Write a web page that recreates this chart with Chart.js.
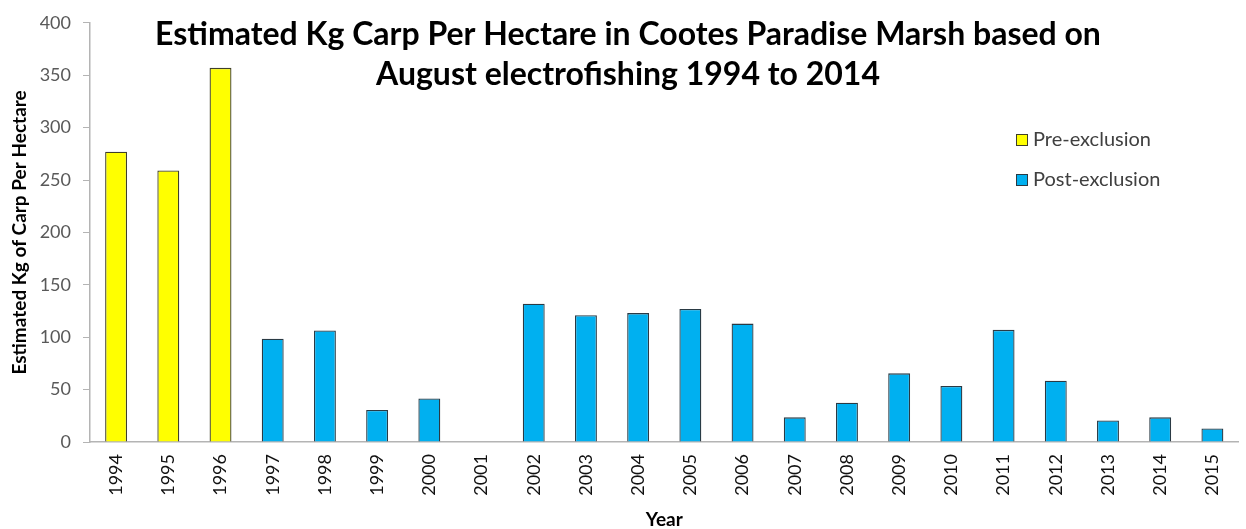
<!DOCTYPE html>
<html>
<head>
<meta charset="utf-8">
<script src="https://cdn.jsdelivr.net/npm/chart.js@4"></script>
<style>
  body { margin: 0; background: #fff; }
  canvas { display: block; }
</style>
</head>
<body>
<canvas id="carpChart" width="1246" height="529"></canvas>
<script>
const years = ['1994','1995','1996','1997','1998','1999','2000','2001','2002','2003','2004',
  '2005','2006','2007','2008','2009','2010','2011','2012','2013','2014','2015'];
const preExclusion = [277, 259, 357, null, null, null, null, null, null, null, null,
  null, null, null, null, null, null, null, null, null, null, null];
const postExclusion = [null, null, null, 98.5, 106.5, 30.5, 41.5, null, 132, 121, 123,
  127, 113, 23.5, 37.5, 65.5, 53.5, 107, 58.5, 20.5, 23.5, 13];
const yTicks = [0, 50, 100, 150, 200, 250, 300, 350, 400];
const titleLines = ['Estimated Kg Carp Per Hectare in Cootes Paradise Marsh based on',
  'August electrofishing 1994 to 2014'];

const FONT = 'Lato, "Open Sans", sans-serif';

// title + legend are drawn over the plot area, like the original
const overlay = {
    id: 'overlay',
    afterDraw(chart) {
        const ctx = chart.ctx;
        ctx.save();
        ctx.fillStyle = '#000';
        ctx.font = 'bold 32px ' + FONT;
        ctx.textAlign = 'center';
        ctx.textBaseline = 'middle';
        ctx.fillText(titleLines[0], 628, 35);
        ctx.fillText(titleLines[1], 628, 75);

        ctx.font = '20px ' + FONT;
        ctx.textAlign = 'left';
        chart.data.datasets.forEach((ds, i) => {
            const y = 140 + i * 40;
            ctx.fillStyle = ds.backgroundColor;
            ctx.fillRect(1016, y - 6, 12, 12);
            ctx.strokeStyle = ds.borderColor;
            ctx.lineWidth = 1;
            ctx.strokeRect(1016.5, y - 5.5, 11, 11);
            ctx.fillStyle = '#404040';
            ctx.fillText(ds.label, 1033, y);
        });
        ctx.restore();
    }
};

new Chart(document.getElementById('carpChart').getContext('2d'), {
    type: 'bar',
    data: {
        labels: years,
        datasets: [
            { label: 'Pre-exclusion', data: preExclusion, backgroundColor: '#FFFF00',
              borderColor: '#3f3f2a', borderWidth: 1.3, grouped: false },
            { label: 'Post-exclusion', data: postExclusion, backgroundColor: '#00B0F0',
              borderColor: '#2a3a44', borderWidth: 1.3, grouped: false }
        ]
    },
    options: {
        responsive: false,
        animation: false,
        layout: { padding: { top: 19, right: 0, left: 0, bottom: 0 } },
        categoryPercentage: 1,
        barPercentage: 0.42,
        scales: {
            x: {
                grid: { drawOnChartArea: false, drawTicks: false },
                border: { color: '#b4b4b4', width: 1.5 },
                ticks: { minRotation: 90, maxRotation: 90, padding: 12, color: '#111',
                         font: { family: FONT, size: 18 } },
                title: { display: true, text: 'Year', color: '#000', padding: { top: 0, bottom: 0 },
                         font: { family: FONT, size: 19, weight: 'bold', lineHeight: 1 } },
                afterFit: (s) => { s.height = 87; }
            },
            y: {
                min: 0, max: 400,
                afterBuildTicks: (s) => { s.ticks = yTicks.map(v => ({ value: v })); },
                grid: { drawOnChartArea: false, drawTicks: true, tickLength: 7, color: '#b4b4b4' },
                border: { color: '#b4b4b4', width: 1.5 },
                ticks: { padding: 12, color: '#595959', font: { family: FONT, size: 18 } },
                title: { display: true, text: 'Estimated Kg of Carp Per Hectare', color: '#000',
                         padding: { top: 8, bottom: 0 },
                         font: { family: FONT, size: 19, weight: 'bold' } },
                afterFit: (s) => { s.width = 90; }
            }
        },
        plugins: {
            legend: { display: false },
            title: { display: false },
            tooltip: { enabled: false }
        }
    },
    plugins: [overlay]
});
</script>
</body>
</html>
